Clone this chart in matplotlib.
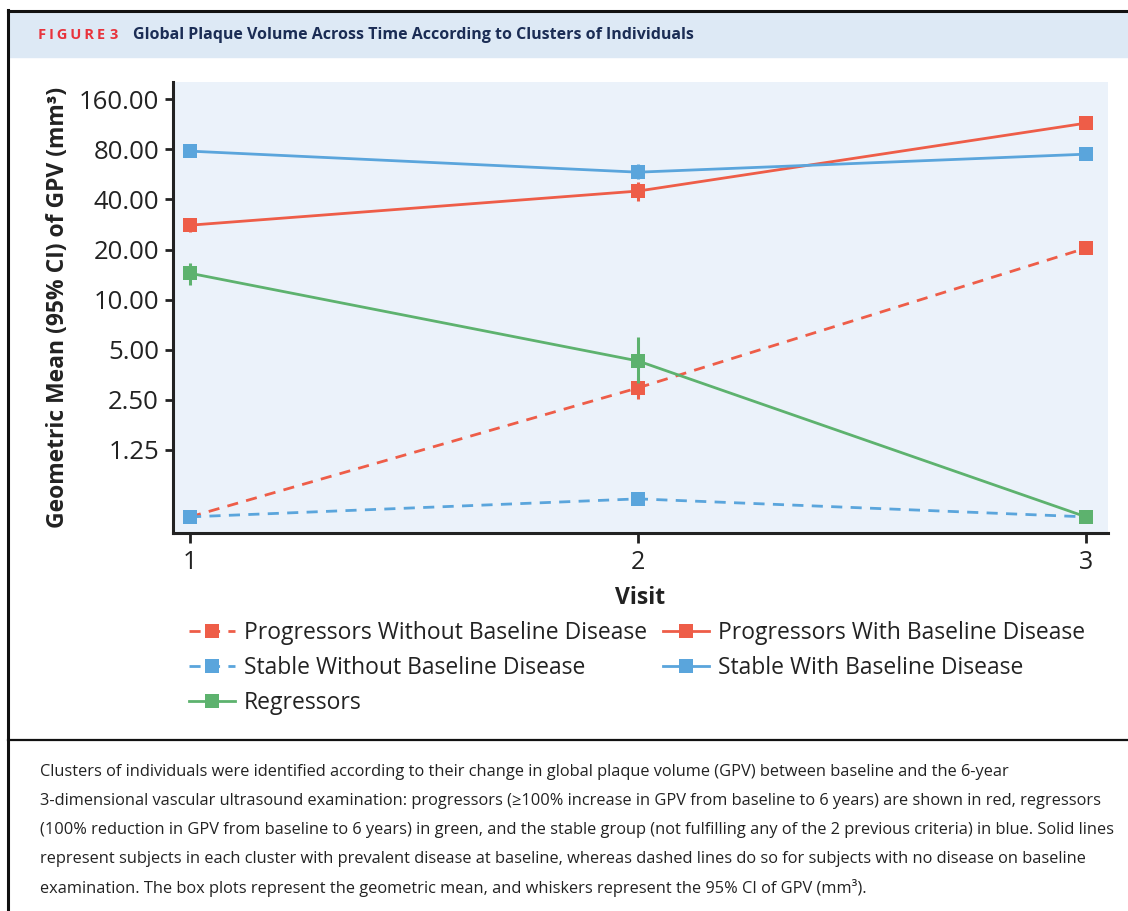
import matplotlib.pyplot as plt
from matplotlib.patches import Rectangle
from matplotlib.lines import Line2D
from matplotlib.ticker import FixedLocator, NullLocator

plt.rcParams['font.family'] = ['Open Sans', 'DejaVu Sans']

visits = [1, 2, 3]

# geometric means and 95% CI (mm3)
prog_wo = [0.495, 2.95, 20.4]
prog_wo_lo = [0.495, 2.53, 20.4]
prog_wo_hi = [0.495, 3.38, 20.4]

prog_w = [28.0, 44.9, 114.9]
prog_w_lo = [25.5, 39.1, 107.0]
prog_w_hi = [30.9, 50.8, 125.0]

stab_wo = [0.495, 0.635, 0.495]
stab_wo_lo = [0.495, 0.635, 0.495]
stab_wo_hi = [0.495, 0.635, 0.495]

stab_w = [78.0, 58.3, 74.8]
stab_w_lo = [71.8, 53.0, 70.8]
stab_w_hi = [85.9, 65.2, 79.1]

regr = [14.4, 4.28, 0.495]
regr_lo = [12.2, 3.15, 0.495]
regr_hi = [16.6, 5.96, 0.495]

ytick_vals = [1.25, 2.5, 5, 10, 20, 40, 80, 160]

red = '#EE5D48'
blue = '#5AA5DC'
green = '#5DB26E'

caption = [
    "Clusters of individuals were identified according to their change in global plaque volume (GPV) between baseline and the 6-year",
    "3-dimensional vascular ultrasound examination: progressors (\u2265100% increase in GPV from baseline to 6 years) are shown in red, regressors",
    "(100% reduction in GPV from baseline to 6 years) in green, and the stable group (not fulfilling any of the 2 previous criteria) in blue. Solid lines",
    "represent subjects in each cluster with prevalent disease at baseline, whereas dashed lines do so for subjects with no disease on baseline",
    "examination. The box plots represent the geometric mean, and whiskers represent the 95% CI of GPV (mm\u00b3).",
]

W, H = 1128, 911
fig = plt.figure(figsize=(W / 100, H / 100), dpi=100)

# frame and title band
fig.patches.append(Rectangle((8 / W, 1 - 57 / H), 1, 45 / H, transform=fig.transFigure,
                             color='#DDE9F5', zorder=0))
fig.add_artist(Line2D([8 / W, 1], [1 - 10.5 / H] * 2, color='#111111', lw=2.2))
fig.add_artist(Line2D([8 / W, 8 / W], [0, 1 - 10 / H], color='#111111', lw=2.2))
fig.add_artist(Line2D([8 / W, 1], [1 - 740 / H] * 2, color='#111111', lw=1.6))
fig.text(38 / W, 1 - 35 / H, "F\u2009I\u2009G\u2009U\u2009R\u2009E", color='#E8333C',
         fontsize=10.5, fontweight='bold', va='center', ha='left')
fig.text(110 / W, 1 - 35 / H, "3", color='#E8333C',
         fontsize=10.5, fontweight='bold', va='center', ha='left')
fig.text(133 / W, 1 - 35 / H,
         "Global Plaque Volume Across Time According to Clusters of Individuals",
         color='#1B2D55', fontsize=11.5, fontweight='bold', va='center', ha='left')

ax = fig.add_axes([173 / W, 1 - 533 / H, 935 / W, 451 / H])
ax.set_facecolor('#EBF2FA')
ax.set_yscale('log', base=2)


def series(y, lo, hi, color, ls, label):
    yerr = [[a - b for a, b in zip(y, lo)], [c - a for a, c in zip(y, hi)]]
    ax.errorbar(visits, y, yerr=yerr, color=color, ls='none', elinewidth=2.2, capsize=0)
    kw = dict(dashes=(4, 3)) if ls == '--' else {}
    ax.plot(visits, y, color=color, ls=ls, lw=2, marker='s', ms=10, mew=0,
            label=label, **kw)


series(prog_wo, prog_wo_lo, prog_wo_hi, red, '--', 'Progressors Without Baseline Disease')
series(stab_wo, stab_wo_lo, stab_wo_hi, blue, '--', 'Stable Without Baseline Disease')
series(regr, regr_lo, regr_hi, green, '-', 'Regressors')
series(prog_w, prog_w_lo, prog_w_hi, red, '-', 'Progressors With Baseline Disease')
series(stab_w, stab_w_lo, stab_w_hi, blue, '-', 'Stable With Baseline Disease')

ax.set_xlim(0.962, 3.049)
ax.set_ylim(0.396, 203)
ax.yaxis.set_major_locator(FixedLocator(ytick_vals))
ax.yaxis.set_minor_locator(NullLocator())
ax.set_yticklabels([f"{v:.2f}" for v in ytick_vals])
ax.set_xticks(visits)
ax.set_xticklabels([str(v) for v in visits])

for s in ['top', 'right']:
    ax.spines[s].set_visible(False)
for s in ['left', 'bottom']:
    ax.spines[s].set_linewidth(2.2)
    ax.spines[s].set_color('#222222')
ax.tick_params(axis='y', length=6, width=2, labelsize=18.5, colors='#222222', pad=4)
ax.tick_params(axis='x', length=7, width=2, labelsize=18, colors='#222222', pad=5)

ax.set_ylabel("Geometric Mean (95% CI) of GPV (mm\u00b3)", fontsize=16.5,
              fontweight='bold', color='#222222', labelpad=6)
ax.set_xlabel("Visit", fontsize=16.5, fontweight='bold', color='#222222', labelpad=8)

leg = ax.legend(ncol=2, loc='upper left', bbox_to_anchor=(180 / W, 1 - 612 / H),
                bbox_transform=fig.transFigure, frameon=False, fontsize=16.5,
                handlelength=2.0, handletextpad=0.4, columnspacing=0.7,
                labelspacing=0.48, borderaxespad=0)
for t in leg.get_texts():
    t.set_color('#222222')

for i, line in enumerate(caption):
    fig.text(40 / W, 1 - (772 + 29 * i) / H, line, fontsize=11.75, color='#222222',
             va='center', ha='left')

fig.savefig('out.png', dpi=100)
